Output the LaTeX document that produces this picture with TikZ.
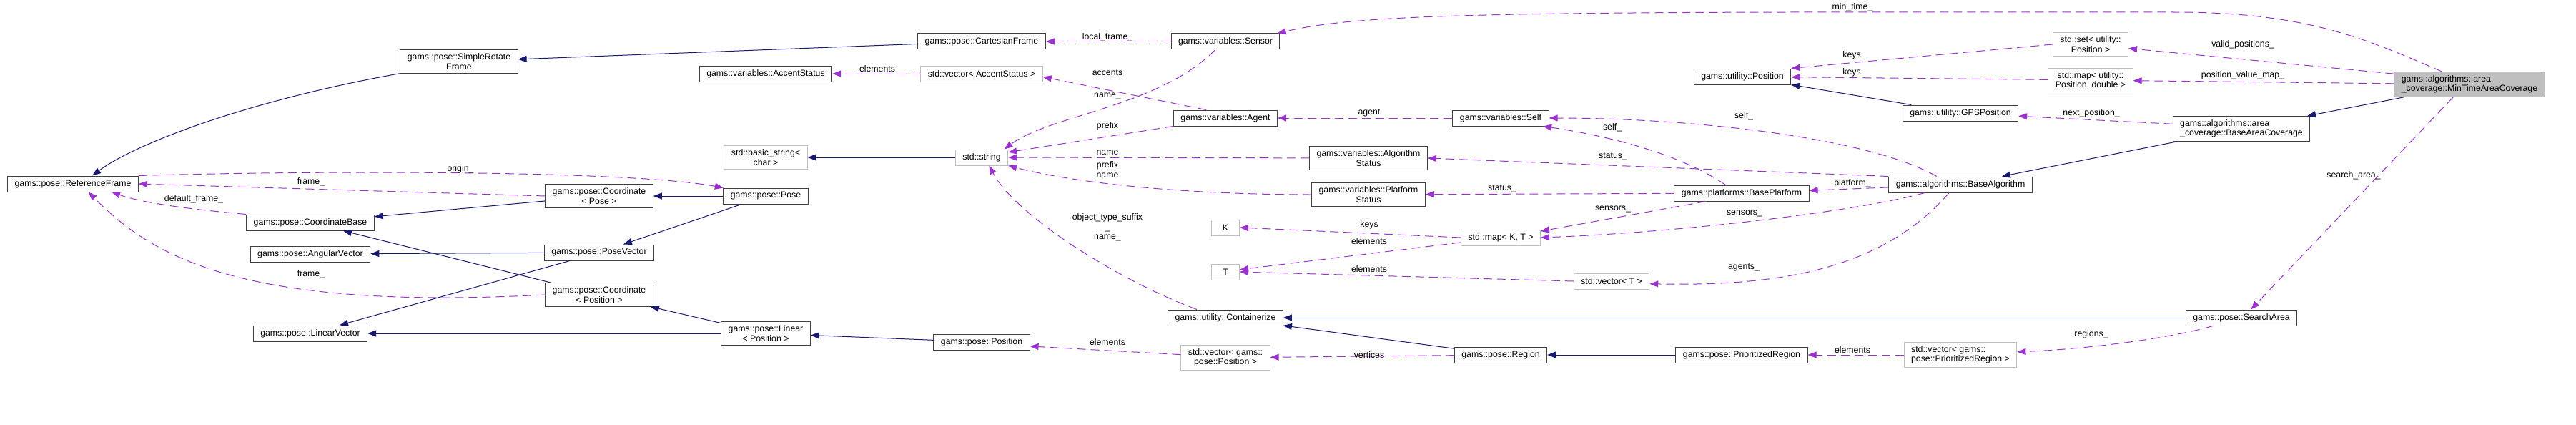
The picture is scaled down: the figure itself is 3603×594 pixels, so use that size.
\documentclass[tikz,border=0pt]{standalone}
\usepackage{fontspec}
\setmainfont{Liberation Sans}
\usepackage{xcolor}
\usepackage{tikz}
\usetikzlibrary{arrows.meta}
\definecolor{inhblue}{HTML}{191970}
\definecolor{usepurple}{HTML}{9A32CD}
\definecolor{undocgray}{HTML}{BFBFBF}
\newcommand{\dxfont}{\fontsize{12.3}{13.3}\selectfont}
\tikzset{
  cls/.style   = {draw=black!75, line width=1pt, fill=white, font=\dxfont,
                  inner xsep=10pt, inner ysep=5pt, minimum height=22pt, align=center},
  undoc/.style = {cls, draw=undocgray},
  focus/.style = {cls, fill=undocgray},
  elab/.style  = {font=\dxfont, inner sep=0pt, align=center},
  inh/.style   = {-{Triangle[length=12pt,width=9pt]}, inhblue, line width=1pt},
  usage/.style = {-{Triangle[length=12pt,width=9pt]}, usepurple, line width=1pt,
                  dash pattern=on 12pt off 7pt},
}

\begin{document}
\begin{tikzpicture}[x=1pt, y=-1pt]
\useasboundingbox (0,0) rectangle (3603,594);
% classes
\node[cls] (ref) at (102,257) {gams::pose::ReferenceFrame};
\node[cls] (srf) at (642,86) {gams::pose::SimpleRotate\\Frame};
\node[cls] (cart) at (1373,58) {gams::pose::CartesianFrame};
\node[cls] (cbase) at (434,311) {gams::pose::CoordinateBase};
\node[cls] (angv) at (434,355) {gams::pose::AngularVector};
\node[cls] (linv) at (434,466) {gams::pose::LinearVector};
\node[cls] (cpose) at (838,274) {gams::pose::Coordinate\\< Pose >};
\node[cls] (pvec) at (838,353) {gams::pose::PoseVector};
\node[cls] (cpos) at (838,412) {gams::pose::Coordinate\\< Position >};
\node[cls] (accst) at (1071,103) {gams::variables::AccentStatus};
\node[undoc] (bstr) at (1071,220) {std::basic\_string<\\char >};
\node[cls] (pose) at (1071,274) {gams::pose::Pose};
\node[cls] (lin) at (1071,466) {gams::pose::Linear\\< Position >};
\node[undoc] (vacc) at (1373,103) {std::vector< AccentStatus >};
\node[undoc] (str) at (1373,220) {std::string};
\node[cls] (ppos) at (1373,478) {gams::pose::Position};
\node[cls] (sensor) at (1714,58) {gams::variables::Sensor};
\node[cls] (agent) at (1714,165) {gams::variables::Agent};
\node[undoc, minimum width=39pt] (kk) at (1714,318) {K};
\node[undoc, minimum width=39pt] (tt) at (1714,380) {T};
\node[cls] (cont) at (1714,444) {gams::utility::Containerize};
\node[undoc] (vpos) at (1714,500) {std::vector< gams::\\pose::Position >};
\node[cls] (algst) at (1914,221) {gams::variables::Algorithm\\Status};
\node[cls] (platst) at (1914,272) {gams::variables::Platform\\Status};
\node[cls] (self) at (2099,165) {gams::variables::Self};
\node[undoc] (mapkt) at (2099,332) {std::map< K, T >};
\node[cls] (region) at (2099,496) {gams::pose::Region};
\node[undoc] (vt) at (2254,393) {std::vector< T >};
\node[cls] (upos) at (2437,107) {gams::utility::Position};
\node[cls] (bplat) at (2436,270) {gams::platforms::BasePlatform};
\node[cls] (preg) at (2436,496) {gams::pose::PrioritizedRegion};
\node[cls] (gps) at (2742,158) {gams::utility::GPSPosition};
\node[cls] (balg) at (2742,258) {gams::algorithms::BaseAlgorithm};
\node[undoc, align=left] (vpreg) at (2742,496) {std::vector< gams::\\pose::PrioritizedRegion >};
\node[undoc] (setp) at (2924,62) {std::set< utility::\\Position >};
\node[undoc] (mappv) at (2924,112) {std::map< utility::\\Position, double >};
\node[cls, align=left] (bac) at (3135,180) {gams::algorithms::area\\\_coverage::BaseAreaCoverage};
\node[cls] (sarea) at (3135,444) {gams::pose::SearchArea};
\node[focus, align=left] (mtac) at (3454,118) {gams::algorithms::area\\\_coverage::MinTimeAreaCoverage};

% inheritance
\draw[inh] (srf.south west) .. controls (350,140) and (190,200) .. (ref.23);
\draw[inh] (cart) -- (srf);
\draw[inh] (cpose) -- (cbase);
\draw[inh] (cpos) -- (cbase);
\draw[inh] (pose) -- (cpose);
\draw[inh] (pose) -- (pvec);
\draw[inh] (pvec) -- (angv);
\draw[inh] (pvec) -- (linv);
\draw[inh] (lin) -- (linv);
\draw[inh] (lin) -- (cpos);
\draw[inh] (ppos) -- (lin);
\draw[inh] (str) -- (bstr);
\draw[inh] (gps) -- (upos);
\draw[inh] (bac) -- (balg);
\draw[inh] (mtac) -- (bac);
\draw[inh] (sarea) -- (cont);
\draw[inh] (region) -- (cont);
\draw[inh] (preg) -- (region);

% members
\draw[usage] (cpose.west) -- (ref.east);
\draw[usage] (ref.north east) .. controls (450,238) and (880,238) .. (pose.169);
\draw[usage] (cbase.north west) .. controls (270,293) and (200,284) .. (ref.-12);
\draw[usage] (cpos.west) .. controls (330,435) and (210,355) .. (ref.-28);
\draw[usage] (sensor) -- (cart);
\draw[usage] (agent.157) -- (vacc.-3);
\draw[usage] (vacc) -- (accst);
\draw[usage] (sensor.-141) .. controls (1620,150) and (1470,160) .. (str.20);
\draw[usage] (agent.south west) -- (str.11);
\draw[usage] (algst) -- (str);
\draw[usage] (platst.west) .. controls (1650,272) and (1500,255) .. (str.south east);
\draw[usage] (cont.164) .. controls (1560,390) and (1420,300) .. (str.-48);
\draw[usage] (self) -- (agent);
\draw[usage] (balg.161) .. controls (2620,195) and (2380,165) .. (self.east);
\draw[usage] (bplat.153) .. controls (2350,215) and (2250,190) .. (self.-11);
\draw[usage] (balg.north west) -- (algst.east);
\draw[usage] (bplat) -- (platst);
\draw[usage] (balg) -- (bplat);
\draw[usage] (bplat.-167) -- (mapkt.9);
\draw[usage] (balg.-167) .. controls (2600,295) and (2350,325) .. (mapkt.east);
\draw[usage] (mapkt.west) -- (kk.east);
\draw[usage] (mapkt.-173) -- (tt.9);
\draw[usage] (vt.west) -- (tt.east);
\draw[usage] (balg.-144) .. controls (2630,380) and (2480,400) .. (vt.-4);
\draw[usage] (region) -- (vpos);
\draw[usage] (vpos.176) -- (ppos.-5);
\draw[usage] (vpreg) -- (preg);
\draw[usage] (sarea.-164) .. controls (3040,472) and (2920,488) .. (vpreg.3);
\draw[usage] (mtac.-142) -- (sarea.41);
\draw[usage] (bac.176) -- (gps.-3);
\draw[usage] (mtac.172) -- (setp.-6);
\draw[usage] (mtac) -- (mappv);
\draw[usage] (setp.west) -- (upos.north east);
\draw[usage] (mappv) -- (upos);
\draw[usage] (mtac.155) .. controls (3300,50) and (3220,17) .. (3040,17)
  -- (2500,17) .. controls (2000,18) and (1880,25) .. (sensor.9);

% edge labels
\node[elab] (lbframea) at (435,254) {frame\_};
\node[elab] (lbdefault) at (271,278) {default\_frame\_};
\node[elab] (lbframeb) at (435,383) {frame\_};
\node[elab] (lborigin) at (644,236) {origin\_};
\node[elab] (lbelema) at (1227,96) {elements};
\node[elab] (lblocal) at (1549,52) {local\_frame\_};
\node[elab] (lbaccents) at (1549,102) {accents};
\node[elab] (lbnamea) at (1549,134) {name\_};
\node[elab] (lbprefix) at (1549,176) {prefix};
\node[elab] (lbnameb) at (1549,213) {name};
\node[elab] (lbprefname) at (1549,237) {prefix\\name};
\node[elab] (lbsuffix) at (1549,318) {object\_type\_suffix\\\_\\name\_};
\node[elab] (lbagent) at (1915,158) {agent};
\node[elab] (lbkeysa) at (1915,314) {keys};
\node[elab] (lbelemb) at (1915,337) {elements};
\node[elab] (lbelemc) at (1915,376) {elements};
\node[elab] (lbelemd) at (1549,478) {elements};
\node[elab] (lbvert) at (1915,496) {vertices};
\node[elab] (lbselfa) at (2439,162) {self\_};
\node[elab] (lbselfb) at (2255,178) {self\_};
\node[elab] (lbstatusa) at (2256,219) {status\_};
\node[elab] (lbstatusb) at (2101,264) {status\_};
\node[elab] (lbsensa) at (2256,292) {sensors\_};
\node[elab] (lbsensb) at (2440,298) {sensors\_};
\node[elab] (lbagents) at (2439,374) {agents\_};
\node[elab] (lbmintime) at (2591,10) {min\_time\_};
\node[elab] (lbkeysb) at (2590,77) {keys};
\node[elab] (lbkeysc) at (2590,101) {keys};
\node[elab] (lbnext) at (2925,158) {next\_position\_};
\node[elab] (lbplat) at (2591,256) {platform\_};
\node[elab] (lbeleme) at (2591,489) {elements};
\node[elab] (lbregions) at (2925,467) {regions\_};
\node[elab] (lbvalid) at (3137,62) {valid\_positions\_};
\node[elab] (lbposmap) at (3137,105) {position\_value\_map\_};
\node[elab] (lbsearch) at (3292,245) {search\_area\_};
\end{tikzpicture}
\end{document}
